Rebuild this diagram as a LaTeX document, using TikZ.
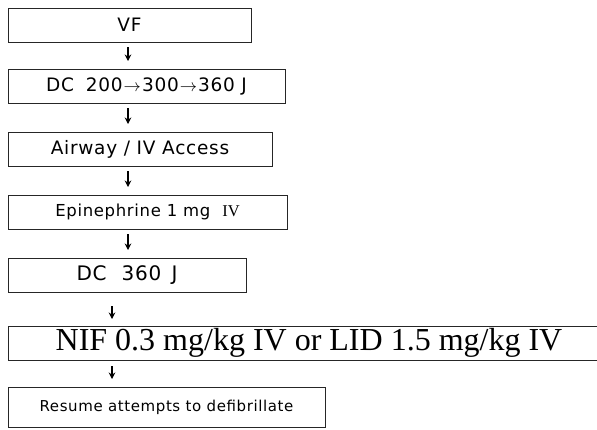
\documentclass[tikz,border=0pt]{standalone}
\usepackage{fontspec}
\setmainfont{Liberation Serif}
\setsansfont{Liberation Sans}
\newfontfamily\gothic[LetterSpace=4]{DejaVu Sans}
\usetikzlibrary{arrows.meta}
\tikzset{
  flowbox/.style={draw=black!85, line width=0.8pt, rectangle, anchor=north west,
    inner sep=0pt, outer sep=0pt, minimum height=34pt, font=\gothic\fontsize{18.5}{18.5}\selectfont},
  smalltext/.style={font=\gothic\fontsize{16.5}{16.5}\selectfont},
  widetext/.style={font=\gothic\fontsize{20}{20}\selectfont},
  restext/.style={font=\gothic\fontsize{15}{15}\selectfont},
  bigtext/.style={font=\rmfamily\fontsize{32}{32}\selectfont},
  flowarrow/.style={line width=1.1pt, -{Stealth[length=6.5pt,width=6.5pt]}},
}
\newcommand{\rarr}{\kern1pt$\rightarrow$\kern1pt}
\begin{document}
\begin{tikzpicture}[x=1pt,y=-1pt]
\useasboundingbox (0,0) rectangle (597,429);
\clip (0,0) rectangle (597,429);
\node[flowbox, minimum width=243pt] (vf) at (8,8) {VF};
\node[flowbox, minimum width=277pt] (dc1) at (8,69) {DC\hspace{12pt}200\rarr300\rarr360 J};
\node[flowbox, minimum width=264pt] (air) at (8,132) {Airway / IV Access};
\node[flowbox, smalltext, minimum width=279pt] (epi) at (8,195) {Epinephrine 1 mg\ \ {\rmfamily IV}};
\node[flowbox, widetext, minimum width=238pt] (dc2) at (8,258) {DC\hspace{15pt}360\hspace{3pt} J};
\node[flowbox, bigtext, minimum width=602pt] (nif) at (8,326) {NIF 0.3 mg/kg IV or LID 1.5 mg/kg IV};
\node[flowbox, restext, minimum width=317pt, minimum height=40pt] (res) at (8,387) {Resume attempts to defibrillate};
\coordinate (ua) at (128,0);
\coordinate (la) at (112,0);
\draw[flowarrow] ([yshift=-5pt]vf.south -| ua) -- ([yshift=8pt]dc1.north -| ua);
\draw[flowarrow] ([yshift=-5pt]dc1.south -| ua) -- ([yshift=8pt]air.north -| ua);
\draw[flowarrow] ([yshift=-5pt]air.south -| ua) -- ([yshift=8pt]epi.north -| ua);
\draw[flowarrow] ([yshift=-5pt]epi.south -| ua) -- ([yshift=8pt]dc2.north -| ua);
\draw[flowarrow] ([yshift=-14pt]dc2.south -| la) -- ([yshift=7pt]nif.north -| la);
\draw[flowarrow] ([yshift=-6pt]nif.south -| la) -- ([yshift=8pt]res.north -| la);
\end{tikzpicture}
\end{document}
